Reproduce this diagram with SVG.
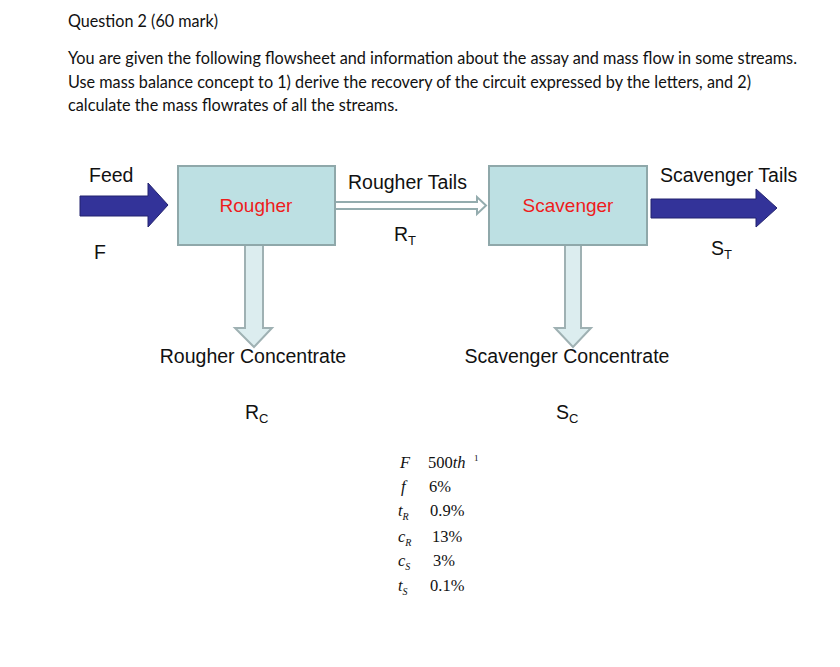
<svg xmlns="http://www.w3.org/2000/svg" width="840" height="667" viewBox="0 0 840 667">
<defs>
<style>
.q{font-family:Lato,"Open Sans",sans-serif;font-size:16.5px;fill:#111}
.l{font-family:"Liberation Sans",Arial,sans-serif;font-size:19.5px;fill:#111}
.red{font-family:"Liberation Sans",Arial,sans-serif;font-size:19px;fill:#ee1c1c}
.sub{font-size:13px}
.box{fill:#bde0e3;stroke:#8fa8aa;stroke-width:2}
.blue{fill:#333399;stroke:#23236e;stroke-width:1}
.pale{fill:#dcedef;stroke:#9fb1b3;stroke-width:2}
.hollow{fill:#fff;stroke:#94acae;stroke-width:2}
.t{font-family:"Liberation Serif","Times New Roman",serif;font-size:16.5px;fill:#111}
.i{font-style:italic}
.sup{font-family:"Liberation Serif","Times New Roman",serif;font-size:9px;fill:#111}
</style>
</defs>
<rect width="840" height="667" fill="#fff"/>
<g id="question">
<text class="q" x="68" y="27" textLength="150" lengthAdjust="spacingAndGlyphs">Question 2 (60 mark)</text>
<text class="q" x="68" y="64" textLength="729" lengthAdjust="spacingAndGlyphs">You are given the following flowsheet and information about the assay and mass flow in some streams.</text>
<text class="q" x="68" y="88" textLength="683" lengthAdjust="spacingAndGlyphs">Use mass balance concept to 1) derive the recovery of the circuit expressed by the letters, and 2)</text>
<text class="q" x="68" y="111" textLength="330" lengthAdjust="spacingAndGlyphs">calculate the mass flowrates of all the streams.</text>
</g>
<g id="connectors">
<path class="blue" d="M80,196 L148,196 L148,183 L168,205 L148,227 L148,216 L80,216 Z"/>
<path class="hollow" d="M335,202 L477,202 L477,197 L486,205.5 L477,214 L477,209 L335,209 Z"/>
<path class="blue" d="M651,199 L756,199 L756,189 L777,208 L756,227 L756,218 L651,218 Z"/>
<path class="pale" d="M245,245 L245,328 L235,328 L254,347 L272,328 L263,328 L263,245"/>
<path class="pale" d="M565,245 L565,328 L555,328 L573,347 L591,328 L581,328 L581,245"/>
</g>
<g id="rougher">
<rect class="box" x="178" y="166" width="157" height="79"/>
<text class="red" x="256" y="212" text-anchor="middle">Rougher</text>
</g>
<g id="scavenger">
<rect class="box" x="489" y="166" width="158" height="79"/>
<text class="red" x="568" y="212" text-anchor="middle">Scavenger</text>
</g>
<g id="labels">
<text class="l" x="89" y="182">Feed</text>
<text class="l" x="94" y="259">F</text>
<text class="l" x="348" y="189">Rougher Tails</text>
<text class="l" x="394" y="241">R<tspan class="sub" dy="4">T</tspan></text>
<text class="l" x="660" y="182">Scavenger Tails</text>
<text class="l" x="711" y="255">S<tspan class="sub" dy="4">T</tspan></text>
<text class="l" x="253" y="363" text-anchor="middle">Rougher Concentrate</text>
<text class="l" x="567" y="363" text-anchor="middle">Scavenger Concentrate</text>
<text class="l" x="245" y="419">R<tspan class="sub" dy="4">C</tspan></text>
<text class="l" x="556" y="419">S<tspan class="sub" dy="4">C</tspan></text>
</g>
<g id="data">
<text class="t i" x="400" y="468">F</text>
<text class="t" x="428" y="468">500<tspan class="i">th</tspan></text>
<text class="sup" x="474" y="461">1</text>
<text class="t i" x="401" y="492">f</text>
<text class="t" x="429" y="492">6%</text>
<text class="t i" x="398" y="516">t<tspan font-size="10" dy="4">R</tspan></text>
<text class="t" x="430" y="516">0.9%</text>
<text class="t i" x="398" y="542">c<tspan font-size="10" dy="4">R</tspan></text>
<text class="t" x="432" y="542">13%</text>
<text class="t i" x="398" y="566">c<tspan font-size="10" dy="4">S</tspan></text>
<text class="t" x="433" y="566">3%</text>
<text class="t i" x="398" y="591">t<tspan font-size="10" dy="4">S</tspan></text>
<text class="t" x="430" y="591">0.1%</text>
</g>
</svg>
